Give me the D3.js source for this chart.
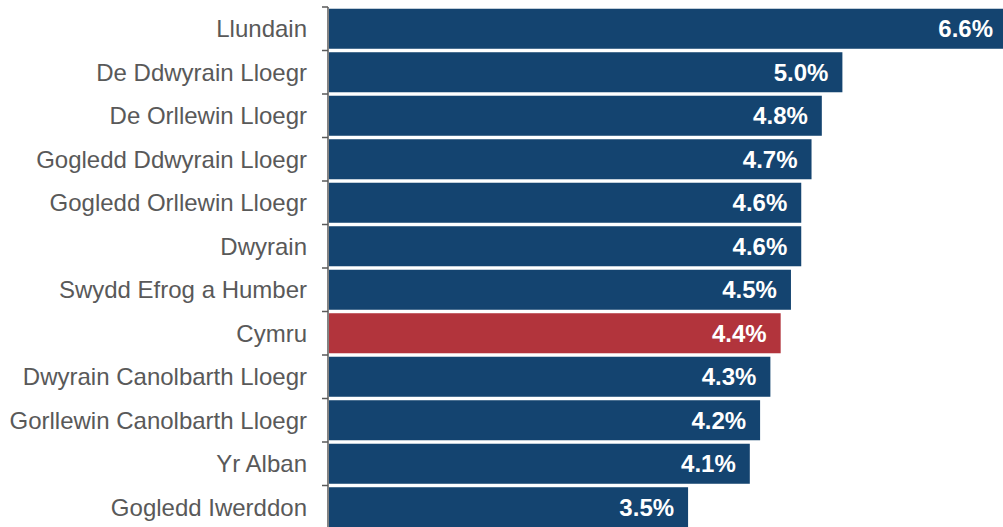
<!DOCTYPE html>
<html>
<head>
<meta charset="utf-8">
<script src="https://cdn.jsdelivr.net/npm/d3@7"></script>
<style>
  body { margin: 0; background: #fff; }
  svg { display: block; font-family: "Liberation Sans", Arial, sans-serif; }
</style>
</head>
<body>
<script>
const regions = ['Llundain', 'De Ddwyrain Lloegr', 'De Orllewin Lloegr', 'Gogledd Ddwyrain Lloegr',
  'Gogledd Orllewin Lloegr', 'Dwyrain', 'Swydd Efrog a Humber', 'Cymru',
  'Dwyrain Canolbarth Lloegr', 'Gorllewin Canolbarth Lloegr', 'Yr Alban', 'Gogledd Iwerddon'];
const rates = [6.6, 5.0, 4.8, 4.7, 4.6, 4.6, 4.5, 4.4, 4.3, 4.2, 4.1, 3.5];
const highlight = 'Cymru';

const W = 1003, H = 527;
const margin = {top: 7, right: 0, bottom: 0, left: 328};

const svg = d3.select('body').append('svg')
  .attr('width', W).attr('height', H);

const g = svg.append('g')
  .attr('transform', 'translate(' + margin.left + ',' + margin.top + ')');

var x = d3.scaleLinear()
  .domain([0, 6.6])
  .range([0, 679]);

var y = d3.scaleBand()
  .domain(regions)
  .range([0, 43.5 * regions.length])
  .paddingInner(0.08)
  .paddingOuter(0.04);

g.selectAll('rect')
  .data(regions)
  .enter()
  .append('rect')
  .attr('x', 1)
  .attr('y', d => y(d))
  .attr('width', (d, i) => x(rates[i]) - 1)
  .attr('height', y.bandwidth())
  .attr('fill', d => d === highlight ? '#b2343c' : '#144470');

g.selectAll('.val')
  .data(regions)
  .enter()
  .append('text')
  .attr('class', 'val')
  .attr('x', (d, i) => x(rates[i]) - 14)
  .attr('y', d => y(d) + y.bandwidth() / 2)
  .attr('dy', '0.35em')
  .attr('text-anchor', 'end')
  .attr('fill', '#fff')
  .style('font-size', '24px')
  .style('font-weight', 'bold')
  .text((d, i) => rates[i].toFixed(1) + '%');

// axis with ticks at band boundaries
const bounds = d3.range(regions.length + 1).map(i => i * y.step());
const axis = g.append('g');
axis.append('line')
  .attr('x1', 0).attr('x2', 0)
  .attr('y1', 0).attr('y2', H)
  .attr('stroke', '#595959').attr('stroke-width', 1.5);
axis.selectAll('.tk')
  .data(bounds)
  .enter()
  .append('line')
  .attr('x1', -6).attr('x2', 0)
  .attr('y1', d => d).attr('y2', d => d)
  .attr('stroke', '#595959').attr('stroke-width', 1.5);

g.selectAll('.lbl')
  .data(regions)
  .enter()
  .append('text')
  .attr('class', 'lbl')
  .attr('x', -21)
  .attr('y', d => y(d) + y.bandwidth() / 2)
  .attr('dy', '0.35em')
  .attr('text-anchor', 'end')
  .attr('fill', '#595959')
  .style('font-size', '24px')
  .text(d => d);
</script>
</body>
</html>
